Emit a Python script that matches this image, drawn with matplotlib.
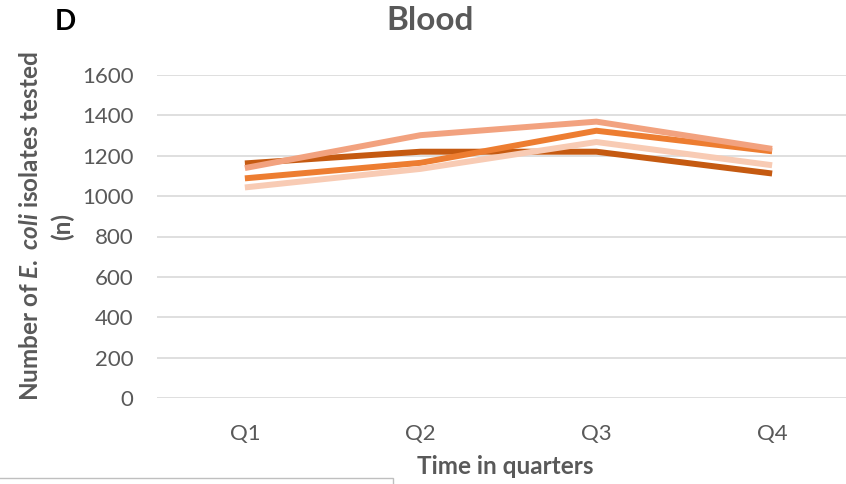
import matplotlib
matplotlib.use("Agg")
import matplotlib.pyplot as plt
from matplotlib.patches import Rectangle

plt.rcParams['font.family'] = ['Lato', 'DejaVu Sans']
plt.rcParams['mathtext.fontset'] = 'custom'
plt.rcParams['mathtext.rm'] = 'Lato:bold'
plt.rcParams['mathtext.it'] = 'Lato:italic:bold'
plt.rcParams['mathtext.bf'] = 'Lato:bold'

quarters = ["Q1", "Q2", "Q3", "Q4"]
series_dark = [1162, 1220, 1220, 1112]
series_orange = [1088, 1165, 1324, 1222]
series_salmon = [1139, 1302, 1369, 1234]
series_light = [1043, 1135, 1268, 1153]
yticks = [0, 200, 400, 600, 800, 1000, 1200, 1400, 1600]

series = [
    (series_dark, "#C55A11"),
    (series_orange, "#ED7D31"),
    (series_salmon, "#F2A27F"),
    (series_light, "#F8CBB4"),
]

W, H = 846, 484
fig = plt.figure(figsize=(W / 100, H / 100), dpi=100)
left, right = 157, 860
top, bottom = 75, 398
ax = fig.add_axes([left / W, 1 - bottom / H, (right - left) / W, (bottom - top) / H])

x = list(range(len(quarters)))
for vals, col in series:
    ax.plot(x, vals, color=col, lw=4.3, solid_capstyle='butt', solid_joinstyle='round')

ax.set_xlim(-0.5, 3.5)
ax.set_ylim(0, 1600)
ax.set_yticks(yticks)
ax.set_yticklabels([str(v) for v in yticks])
ax.set_xticks(x)
ax.set_xticklabels(quarters)
ax.grid(axis='y', color='#D9D9D9', lw=1.2)
ax.set_axisbelow(True)
for s in ax.spines.values():
    s.set_visible(False)
ax.tick_params(axis='both', length=0, labelsize=16, colors='#595959')
ax.tick_params(axis='y', pad=17)
ax.tick_params(axis='x', pad=19)

fig.text(430 / W, 1 - 20 / H, "Blood", ha='center', va='center',
         fontsize=24, fontweight='bold', color='#595959')
fig.text(65 / W, 1 - 22 / H, "D", ha='center', va='center',
         fontsize=20, fontweight='bold', color='black')
fig.text(505 / W, 1 - 467 / H, "Time in quarters", ha='center', va='center',
         fontsize=17.5, fontweight='bold', color='#595959')
fig.text(31 / W, 1 - 226 / H, r"Number of $\it{E.\ coli}$ isolates tested",
         ha='center', va='center', rotation=90,
         fontsize=17.5, fontweight='bold', color='#595959')
fig.text(62 / W, 1 - 226 / H, "(n)", ha='center', va='center', rotation=90,
         fontsize=17.5, fontweight='bold', color='#595959')

fig.patches.append(Rectangle((-0.01, -0.05), 401 / W, (0.05 + 6 / H),
                             transform=fig.transFigure, fill=False,
                             edgecolor='#BFBFBF', lw=1.0))

fig.savefig("out.png", dpi=100)
